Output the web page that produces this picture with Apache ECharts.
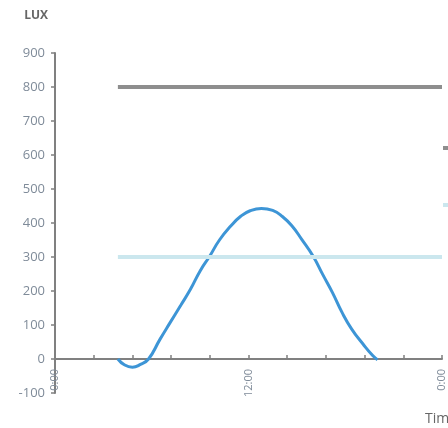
<!DOCTYPE html>
<html>
<head>
<meta charset="utf-8">
<script src="https://cdn.jsdelivr.net/npm/echarts@6/dist/echarts.min.js"></script>
<style>html,body{margin:0;padding:0;background:#fff}#c{width:448px;height:428px}</style>
</head>
<body>
<div id="c"></div>
<script>
// hours of day and lux values
var curveHours = [3.9, 4.3, 4.8, 5.3, 5.8, 6.5, 7.1, 7.8, 8.4, 9.0, 9.6, 10.2, 10.9, 11.5, 12.1, 12.8, 13.5, 14.1, 14.7, 15.3, 16.0, 16.6, 17.2, 17.8, 18.4, 19.1, 19.7, 20.0];
var curveLux   = [0, -17, -24, -16, 0, 57, 104, 158, 205, 259, 303, 350, 391, 419, 436, 443, 437, 419, 391, 352, 303, 249, 196, 137, 88, 44, 10, -2];
var upperHours = [3.9, 24];
var upperLux   = [800, 800];
var lowerHours = [3.9, 24];
var lowerLux   = [300, 300];
var seriesNames = ['Illuminance', 'Upper limit', 'Lower limit'];
var xTickLabels = {0: '0:00', 12: '12:00', 24: '0:00'};
var yAxisName = 'LUX';
var xAxisName = 'Time';

function pairs(xs, ys) { return xs.map(function (x, i) { return [x, ys[i]]; }); }

var chart = echarts.init(document.getElementById('c'));
var labelColor = '#7f8b99';
chart.setOption({
  animation: false,
  textStyle: { fontFamily: 'Open Sans' },
  grid: { left: 55, right: 6, top: 53, bottom: 35, containLabel: false, outerBoundsMode: 'none' },
  legend: {
    show: true, orient: 'vertical', left: 420, top: 142, itemGap: 45,
    padding: [0, 0, 0, 23],
    itemWidth: 10, itemHeight: 4, icon: 'rect',
    data: [seriesNames[1], seriesNames[2]],
    textStyle: { color: '#666', fontSize: 12 }
  },
  xAxis: {
    type: 'value', min: 0, max: 24, interval: 2.4,
    name: xAxisName, nameLocation: 'end', nameGap: -17,
    nameTextStyle: { color: '#666', fontSize: 14, align: 'left', verticalAlign: 'top', padding: [53, 0, 0, 0] },
    axisLine: { onZero: true, lineStyle: { color: '#808080', width: 2 } },
    axisTick: { inside: true, length: 4, lineStyle: { color: '#808080', width: 1.5 } },
    splitLine: { show: false },
    axisLabel: {
      rotate: 90, fontSize: 11, color: labelColor, margin: -24, showMinLabel: true, showMaxLabel: true,
      formatter: function (v) {
        var r = Math.round(v * 100) / 100;
        return xTickLabels.hasOwnProperty(r) ? xTickLabels[r] : '';
      }
    }
  },
  yAxis: {
    type: 'value', min: -100, max: 900, interval: 100,
    name: yAxisName, nameLocation: 'end', nameGap: 31,
    nameTextStyle: { color: '#666', fontSize: 12, fontWeight: 'bold', align: 'right', padding: [0, 7, 0, 0] },
    axisLine: { show: true, lineStyle: { color: '#808080', width: 2 } },
    axisTick: { show: true, inside: false, length: 4, lineStyle: { color: '#808080', width: 1.5 } },
    splitLine: { show: false },
    axisLabel: { fontSize: 13, color: labelColor, margin: 10 }
  },
  series: [
    {
      name: seriesNames[0], type: 'line', data: pairs(curveHours, curveLux),
      smooth: 0.5, smoothConstraint: false, showSymbol: false,
      lineStyle: { color: '#3d95d6', width: 3 }, itemStyle: { color: '#3d95d6' }, z: 3
    },
    {
      name: seriesNames[1], type: 'line', data: pairs(upperHours, upperLux),
      showSymbol: false, lineStyle: { color: '#8e8e8e', width: 4 }, itemStyle: { color: '#8e8e8e' }
    },
    {
      name: seriesNames[2], type: 'line', data: pairs(lowerHours, lowerLux),
      showSymbol: false, lineStyle: { color: '#cbe7ee', width: 4 }, itemStyle: { color: '#cbe7ee' }
    }
  ]
});
</script>
</body>
</html>
